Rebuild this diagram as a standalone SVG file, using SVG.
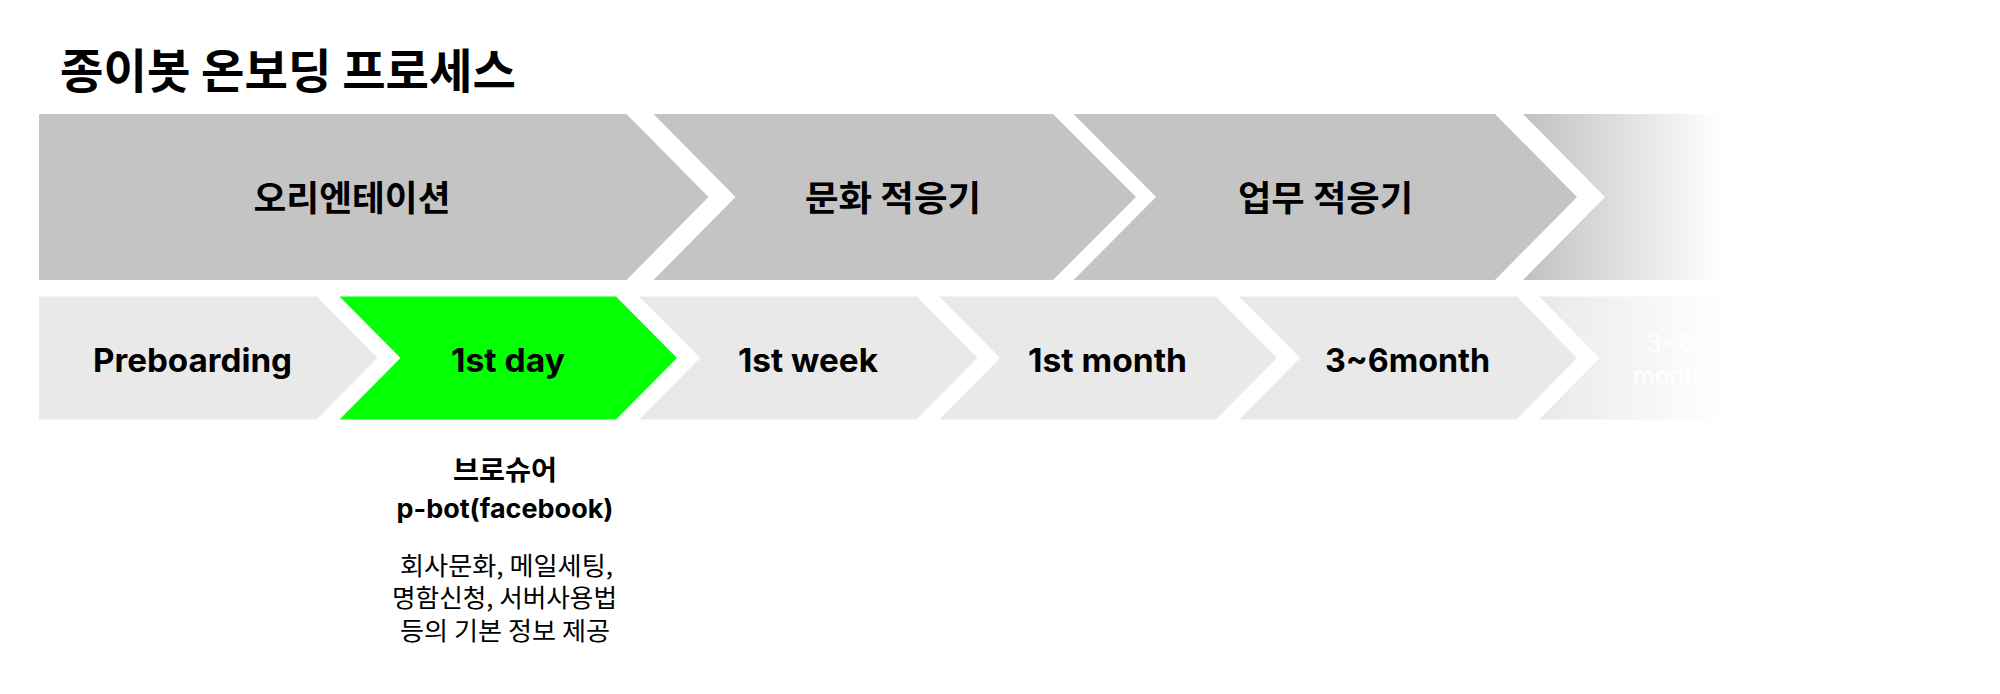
<svg xmlns="http://www.w3.org/2000/svg" width="2000" height="694" viewBox="0 0 2000 694">
  <defs>
    <linearGradient id="fadeTop" gradientUnits="userSpaceOnUse" x1="1523" y1="0" x2="1722" y2="0">
      <stop offset="0" stop-color="#c0c0c0"/>
      <stop offset="1" stop-color="#ffffff"/>
    </linearGradient>
    <linearGradient id="fadeBottom" gradientUnits="userSpaceOnUse" x1="1539" y1="0" x2="1725" y2="0">
      <stop offset="0" stop-color="#e9e9e9"/>
      <stop offset="1" stop-color="#ffffff"/>
    </linearGradient>
    <style>
      .kr { font-family: "Noto Sans CJK KR", "Noto Sans", sans-serif; fill: #000; }
      .krb { font-family: "Noto Sans CJK KR", "Noto Sans", sans-serif; font-weight: 700; fill: #000; }
      .en { font-family: "Inter", "Lato", "Liberation Sans", sans-serif; font-weight: 700; fill: #000; }
      .phase { fill: #c4c4c4; }
      .step { fill: #e9e9e9; }
      .active { fill: #05ff05; }
      .mid { text-anchor: middle; }
    </style>
  </defs>
  <rect width="2000" height="694" fill="#ffffff"/>

  <text id="title" class="krb" x="60" y="88" font-size="47" textLength="456" lengthAdjust="spacingAndGlyphs">종이봇 온보딩 프로세스</text>

  <g id="phase-orientation">
    <polygon class="phase" points="39,114 626.5,114 708.5,197 626.5,280 39,280"/>
    <text class="krb mid" x="352" y="211" font-size="35" textLength="197" lengthAdjust="spacingAndGlyphs">오리엔테이션</text>
  </g>
  <g id="phase-culture">
    <polygon class="phase" points="653.5,114 1053,114 1136,197 1053,280 653.5,280 735.5,197"/>
    <text class="krb mid" x="893" y="211" font-size="35" textLength="176" lengthAdjust="spacingAndGlyphs">문화 적응기</text>
  </g>
  <g id="phase-work">
    <polygon class="phase" points="1073.5,114 1495,114 1577,197 1495,280 1073.5,280 1156,197"/>
    <text class="krb mid" x="1325.5" y="211" font-size="35" textLength="175" lengthAdjust="spacingAndGlyphs">업무 적응기</text>
  </g>
  <g id="phase-next">
    <polygon fill="url(#fadeTop)" points="1523,114 1722,114 1722,280 1523,280 1605,197"/>
  </g>

  <g id="step-preboarding">
    <polygon class="step" points="39,296.5 316.5,296.5 377.5,358 316.5,419.5 39,419.5"/>
    <text class="en mid" x="192.5" y="371.5" font-size="32" textLength="199" lengthAdjust="spacingAndGlyphs">Preboarding</text>
  </g>
  <g id="step-1st-day">
    <polygon class="active" points="339.5,296.5 616,296.5 677,358 616,419.5 339.5,419.5 400.5,358"/>
    <text class="en mid" x="508" y="371.5" font-size="32" textLength="114" lengthAdjust="spacingAndGlyphs">1st day</text>
  </g>
  <g id="step-1st-week">
    <polygon class="step" points="639,296.5 916.5,296.5 977.5,358 916.5,419.5 639,419.5 700,358"/>
    <text class="en mid" x="808" y="371.5" font-size="32" textLength="140" lengthAdjust="spacingAndGlyphs">1st week</text>
  </g>
  <g id="step-1st-month">
    <polygon class="step" points="939,296.5 1216,296.5 1277,358 1216,419.5 939,419.5 1000,358"/>
    <text class="en mid" x="1107.5" y="371.5" font-size="32" textLength="159" lengthAdjust="spacingAndGlyphs">1st month</text>
  </g>
  <g id="step-3-6-month">
    <polygon class="step" points="1239,296.5 1516.5,296.5 1577,358 1516.5,419.5 1239,419.5 1300,358"/>
    <text class="en mid" x="1407.5" y="371.5" font-size="32" textLength="165" lengthAdjust="spacingAndGlyphs">3~6month</text>
  </g>
  <g id="step-next">
    <polygon fill="url(#fadeBottom)" points="1539,296.5 1725,296.5 1725,419.5 1539,419.5 1599.5,358"/>
    <text class="mid" x="1670" y="352" font-size="25" fill="#ffffff" font-family="Inter, Lato, sans-serif">3~6</text>
    <text class="mid" x="1670" y="385" font-size="25" fill="#ffffff" font-family="Inter, Lato, sans-serif">month</text>
  </g>

  <g id="note-1st-day">
    <text class="krb mid" x="505" y="480" font-size="27" textLength="104" lengthAdjust="spacingAndGlyphs">브로슈어</text>
    <text class="en mid" x="505" y="518" font-size="26" textLength="217" lengthAdjust="spacingAndGlyphs">p-bot(facebook)</text>
    <text class="kr mid" x="506.5" y="575" font-size="25" textLength="213" lengthAdjust="spacingAndGlyphs">회사문화, 메일세팅,</text>
    <text class="kr mid" x="504.5" y="607" font-size="25" textLength="225" lengthAdjust="spacingAndGlyphs">명함신청, 서버사용법</text>
    <text class="kr mid" x="505" y="640" font-size="25" textLength="210" lengthAdjust="spacingAndGlyphs">등의 기본 정보 제공</text>
  </g>

  <g id="connectors"/>
</svg>
